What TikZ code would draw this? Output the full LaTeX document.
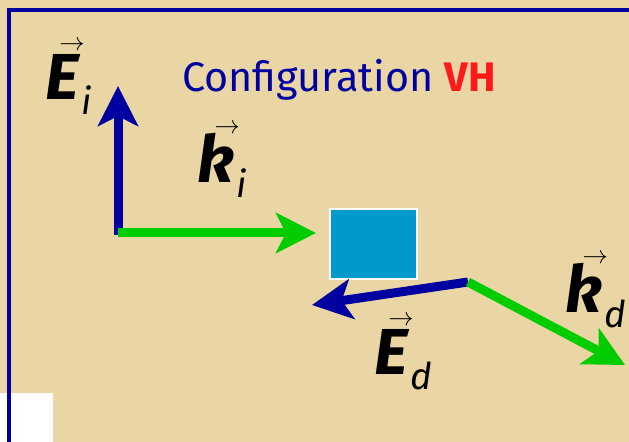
\documentclass[tikz,border=0pt]{standalone}
\usepackage{fontspec}
\setmainfont{Fira Sans}
\usetikzlibrary{arrows.meta}
\definecolor{Parchment}{HTML}{EAD6A4}
\definecolor{FrameBlue}{HTML}{0000A0}
\definecolor{WaveGreen}{HTML}{00CC00}
\definecolor{TargetBlue}{HTML}{0099CC}
\definecolor{TitleRed}{HTML}{FF1A1A}
\newcommand{\veclab}[2]{{\bfseries\itshape #1}\makebox[0pt][l]{\hspace{-0.3em}\raisebox{28pt}{\fontsize{14}{14}\selectfont$\rightarrow$}}\kern0.04em\raisebox{-8pt}{\fontsize{21}{21}\selectfont\itshape #2}}

\begin{document}
\begin{tikzpicture}[x=0.02cm, y=-0.02cm,
    vecteur/.style={line width=0.18cm, -{Stealth[length=8mm, width=8mm, inset=2mm]}},
    etiquette/.style={font=\fontsize{37}{44}\selectfont, anchor=base west, inner sep=0pt}]
      \fill[Parchment] (0,0) rectangle (629,442);
      \useasboundingbox (0,0) rectangle (629,442);
      \fill[white] (0,393) rectangle (53,442);
      \draw[FrameBlue, line width=0.09cm] (9,442) |- (629,10);
      % titre
      \node[anchor=base west, inner sep=0pt, font=\fontsize{23.5}{28}\selectfont, text=FrameBlue] (titre) at (182,92) {Configuration \textcolor{TitleRed}{\bfseries VH}};
      % cible et ondes
      \node[fill=TargetBlue, draw=white, line width=0.04cm, minimum width=1.74cm, minimum height=1.42cm] (cible) at (373.5,244) {};
      \coordinate (o) at (118,233);
      \coordinate (ei) at (118,86);
      \coordinate (ki) at (316,233);
      \coordinate (s) at (468,282);
      \coordinate (ed) at (312,305);
      \coordinate (kd) at (625,365);
      \draw[vecteur, FrameBlue] (118,235) -- (ei);
      \draw[vecteur, WaveGreen] (o) -- (ki);
      \draw[vecteur, FrameBlue] (s) -- (ed);
      \draw[vecteur, WaveGreen] (s) -- (kd);
      % etiquettes
      \node[etiquette] (lei) at (45,100) {\veclab{E}{i}};
      \node[etiquette] (lki) at (197,183) {\veclab{k}{i}};
      \node[etiquette] (led) at (374,375) {\veclab{E}{d}};
      \node[etiquette] (lkd) at (565,313) {\veclab{k}{d}};
    \end{tikzpicture}
\end{document}
